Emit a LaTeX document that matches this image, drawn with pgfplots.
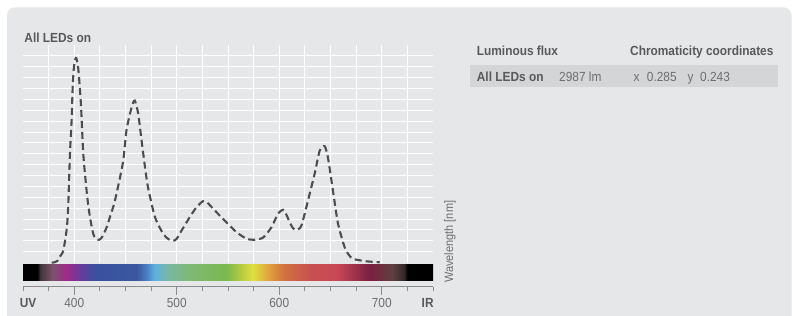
\documentclass[border=0pt]{standalone}
\usepackage{fontspec}
\setmainfont{Liberation Sans}[FakeStretch=0.9]
\usepackage{pgfplots}
\pgfplotsset{compat=1.18}
\definecolor{panel}{HTML}{E6E7E8}
\definecolor{band}{HTML}{D4D5D6}
\definecolor{txt}{HTML}{58595B}
\definecolor{txtl}{HTML}{6D6E70}
\definecolor{curve}{HTML}{4D4D4F}
\definecolor{sp1}{HTML}{403838}
\definecolor{sp2}{HTML}{805070}
\definecolor{sp3}{HTML}{A02A8A}
\definecolor{sp4}{HTML}{6A3A9A}
\definecolor{sp5}{HTML}{3A50A0}
\definecolor{sp6}{HTML}{3A58A0}
\definecolor{sp7}{HTML}{4A7AC0}
\definecolor{sp8}{HTML}{5AB0E0}
\definecolor{sp9}{HTML}{78B8A8}
\definecolor{sp10}{HTML}{80B878}
\definecolor{sp11}{HTML}{7AB850}
\definecolor{sp12}{HTML}{B0C840}
\definecolor{sp13}{HTML}{E0E040}
\definecolor{sp14}{HTML}{E0A040}
\definecolor{sp15}{HTML}{D07040}
\definecolor{sp16}{HTML}{C85050}
\definecolor{sp17}{HTML}{C84858}
\definecolor{sp18}{HTML}{7A2040}
\definecolor{sp19}{HTML}{604040}
\definecolor{sp20}{HTML}{302828}
\pgfdeclarehorizontalshading{spectrum}{100bp}{color(0bp)=(black); color(26.75bp)=(black);
 color(27.125bp)=(sp1); color(28.625bp)=(sp2); color(30.25bp)=(sp3); color(31.875bp)=(sp4);
 color(33.75bp)=(sp5); color(38.875bp)=(sp6); color(40bp)=(sp7); color(41bp)=(sp8);
 color(42.5bp)=(sp9); color(45bp)=(sp10); color(49.75bp)=(sp11); color(51.375bp)=(sp12);
 color(53bp)=(sp13); color(55bp)=(sp14); color(56.875bp)=(sp15); color(60bp)=(sp16);
 color(63.25bp)=(sp17); color(67.25bp)=(sp18); color(70bp)=(sp19); color(71.5bp)=(sp20);
 color(71.875bp)=(black); color(100bp)=(black)}
\newcommand{\fs}{\fontsize{13.2bp}{15bp}\selectfont}
\begin{document}
\begin{tikzpicture}[x=1bp,y=1bp]
\useasboundingbox (0,0) rectangle (792,315);
\fill[white] (0,0) rectangle (792,315);
\fill[panel, rounded corners=8bp] (7,-20) rectangle (791.5,307.7);
\node[anchor=base west, font=\fs\bfseries, text=txt, inner sep=0] at (24.3,272.5) {All LEDs on};
% right table
\fill[band] (470,227.7) rectangle (778.3,250);
\node[anchor=base west, font=\fs\bfseries, text=txt, inner sep=0] at (476.7,259.8) {Luminous flux};
\node[anchor=base west, font=\fs\bfseries, text=txt, inner sep=0] at (630,259.8) {Chromaticity coordinates};
\node[anchor=base west, font=\fs\bfseries, text=txt, inner sep=0] at (476.7,233.8) {All LEDs on};
\node[anchor=base west, font=\fs, text=txtl, inner sep=0] at (559,233.8) {2987 lm};
\node[anchor=base west, font=\fs, text=txtl, inner sep=0] at (633.3,233.8) {x};
\node[anchor=base west, font=\fs, text=txtl, inner sep=0] at (646.7,233.8) {0.285};
\node[anchor=base west, font=\fs, text=txtl, inner sep=0] at (687.3,233.8) {y};
\node[anchor=base west, font=\fs, text=txtl, inner sep=0] at (700,233.8) {0.243};
\node[rotate=90, font=\fontsize{12.2bp}{14bp}\selectfont, text=txtl, inner sep=0] at (450,73.3) {Wavelength [nm]};

\begin{axis}[at={(23bp,52.4bp)}, anchor=south west, scale only axis,
  width=410bp, height=217.5bp, xmin=350, xmax=750, ymin=0, ymax=20,
  xtick={375,400,...,725}, ytick={1,...,19}, grid=major,
  grid style={white, line width=1bp}, axis line style={draw=none},
  major tick length=0pt, xticklabels={}, yticklabels={}, clip=false]
\addplot[curve, line width=2.1bp, dash pattern=on 7bp off 4bp, smooth, tension=0.4] coordinates {
(378,0) (381,0.03) (384,0.2) (386,0.55) (388.5,0.9) (390,1.4) (392.9,3.3) (394.3,5.7)
(395.8,10) (397.3,12.8) (398.5,16.2) (399.7,18) (401,18.7) (402,18.8) (403.9,17.85)
(406.5,14.6) (408.8,10) (412.5,6.2) (415.3,4.2) (418.5,2.65) (421,2.2) (424.4,2.1)
(427.5,2.4) (431.6,3.25) (435.5,4.4) (439.7,5.7) (447.5,9.2) (451,12.2) (456,14.3)
(459,14.9) (462.4,13.7) (465.7,11.2) (469,8.8) (472,6.9) (478.7,4.2) (486.7,2.65)
(492,2.15) (496.5,2.0) (500,2.2) (504.7,2.95) (512.8,4.2) (519.3,5.1) (525.7,5.65)
(530,5.5) (535.5,4.95) (548.5,3.7) (558.3,2.8) (568,2.2) (576,2.1) (584.2,2.3)
(592.4,3.25) (598.8,4.5) (603.7,4.86) (607,4.4) (610.2,3.7) (613.5,3.15) (616.8,3.0)
(621.6,3.4) (628,5.7) (634.6,8.2) (639.5,10.3) (644.3,10.7) (647.6,9.6) (652.4,6.6)
(657.3,3.6) (663.8,1.4) (668,0.7) (672,0.34) (685,0.12) (698,0.03)};
\shade[shading=spectrum] (axis cs:350,-0.22) rectangle (axis cs:750,-1.65);
\end{axis}

\begin{axis}[at={(23bp,28.3bp)}, anchor=south west, scale only axis,
  width=410bp, height=10bp, xmin=350, xmax=750, ymin=0, ymax=1,
  axis x line*=bottom, axis y line=none,
  xtick={400,500,600,700},
  minor xtick={350,375,425,450,475,525,550,575,625,650,675,725,750},
  tick align=outside, major tick length=8bp, minor tick length=4.5bp,
  tick style={txtl!80, line width=0.8bp},
  x axis line style={txtl!80, line width=0.8bp, -},
  xticklabel style={text=txtl, font=\fs},
  extra x ticks={354.9,744.8}, extra x tick labels={\textbf{UV},\textbf{IR}},
  extra x tick style={tick style={draw=none}, xticklabel style={text=txt}},
  /pgf/number format/assume math mode=true]
\addplot[draw=none] coordinates {(400,0)};
\end{axis}
\end{tikzpicture}
\end{document}
